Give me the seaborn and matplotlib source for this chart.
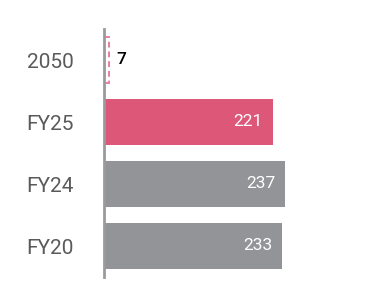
import matplotlib
matplotlib.use("Agg")
import matplotlib.pyplot as plt
import seaborn as sns
import pandas as pd

categories = ["2050", "FY25", "FY24", "FY20"]
values = [7, 221, 237, 233]
colors = ["#DD5779", "#DD5779", "#939497", "#939497"]

sns.set_style("white")
plt.rcParams['font.family'] = ['Roboto', 'DejaVu Sans']

df = pd.DataFrame({"cat": categories, "val": values})

fig = plt.figure(figsize=(3.66, 3.06), dpi=100)
W, H = 366, 306
ax = fig.add_axes([104 / W, 1 - 277 / H, (350 - 104) / W, (277 - 29) / H])

sns.barplot(data=df, y="cat", x="val", hue="cat", palette=colors, legend=False,
            orient="h", width=0.74, ax=ax, saturation=1)

for i, p in enumerate(ax.patches):
    if i == 0:
        p.set_facecolor("none")
        p.set_edgecolor("#E8809C")
        p.set_linestyle((0, (3, 2)))
        p.set_linewidth(1.4)
    else:
        p.set_edgecolor("none")

ax.set_xlim(0, (350 - 104) / 0.763)
ax.set_ylim(3.5, -0.5)

for i, v in enumerate(values):
    if i == 0:
        ax.annotate(str(v), (v, i), xytext=(5, 0), textcoords="offset points",
                    ha="left", va="center", fontsize=12.5, color="black", fontweight="medium")
    else:
        ax.annotate(str(v), (v, i), xytext=(-7, 0), textcoords="offset points",
                    ha="right", va="center", fontsize=12.5, color="white")

for s in ["top", "right", "bottom"]:
    ax.spines[s].set_visible(False)
ax.spines["left"].set_color("#9a9a9a")
ax.spines["left"].set_linewidth(2)
ax.set_xticks([])
ax.set_xlabel("")
ax.set_ylabel("")
ax.tick_params(axis="y", length=0, pad=22, labelsize=15, labelcolor="#5a5a5a")

fig.savefig("out.png", dpi=100)
